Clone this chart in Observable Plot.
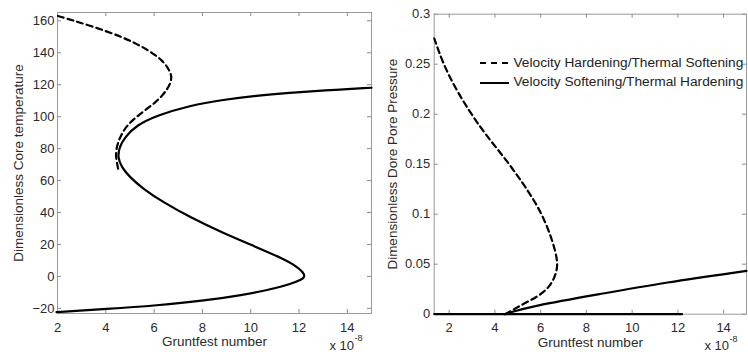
<!DOCTYPE html>
<html><head><meta charset="utf-8">
<script src="https://cdn.jsdelivr.net/npm/d3@7"></script>
<script src="https://cdn.jsdelivr.net/npm/@observablehq/plot@0.6"></script>
<style>
html,body{margin:0;padding:0;background:#fff;}
#wrap{position:relative;width:748px;height:352px;overflow:hidden;font-family:"Liberation Sans",Arial,sans-serif;}
.panel{position:absolute;top:0;}
.leg{position:absolute;font-size:13.7px;color:#222;white-space:nowrap;line-height:16px;}
.legline{position:absolute;}
</style></head><body><div id="wrap"></div>
<script>
// Gruntfest number (x 10^-8) tick labels
const xTicks = [2, 4, 6, 8, 10, 12, 14];
const tempTicks = [-20, 0, 20, 40, 60, 80, 100, 120, 140, 160];
const pressTicks = [0, 0.05, 0.1, 0.15, 0.2, 0.25, 0.3];

// Left panel: Dimensionless core temperature vs Gruntfest number
const leftSolidX = [1.96, 4.03, 6.1, 8.17, 9.54, 10.79, 11.61, 12.1, 12.25, 12.17, 11.9, 11.34, 10.23, 8.86, 7.48, 6.37, 5.54, 4.99, 4.65, 4.49, 4.56, 4.79, 5.26, 6.1, 7.48, 8.86, 10.23, 11.61, 12.99, 15.0];
const leftSolidY = [-22.3, -20.4, -18.2, -15.0, -11.9, -8.3, -5.0, -2.1, -0.2, 2.7, 6.3, 11.1, 18.4, 27.1, 37.1, 46.5, 54.9, 62.2, 68.4, 74.7, 80.9, 87.2, 94.5, 100.7, 107.0, 110.6, 113.1, 114.9, 116.4, 118.1];
const leftDashX = [4.51, 4.44, 4.4, 4.58, 4.86, 5.41, 6.1, 6.58, 6.74, 6.68, 6.37, 5.68, 4.72, 3.34, 1.96];
const leftDashY = [67.4, 72.6, 78.8, 87.2, 94.5, 101.8, 109.1, 117.4, 123.7, 128.0, 135.2, 142.5, 149.8, 157.1, 163.3];

// Right panel: Dimensionless core pore pressure vs Gruntfest number
const rightFlatX = [1.35, 12.18];
const rightFlatY = [0, 0];
const rightSolidX = [4.4, 5.64, 8.55, 11.45, 15.0];
const rightSolidY = [0.0, 0.0083, 0.0200, 0.0317, 0.0433];
const rightDashX = [4.45, 4.84, 5.35, 5.93, 6.44, 6.7, 6.75, 6.54, 6.22, 5.78, 5.2, 4.47, 3.75, 3.02, 2.29, 1.71, 1.35];
const rightDashY = [0.0, 0.005, 0.0117, 0.0183, 0.0283, 0.0417, 0.0533, 0.0717, 0.0917, 0.1117, 0.1317, 0.155, 0.175, 0.198, 0.225, 0.2517, 0.2757];

const seriesNames = ["Velocity Hardening/Thermal Softening", "Velocity Softening/Thermal Hardening"];

const zip = (xs, ys) => xs.map((x, i) => ({x, y: ys[i]}));

const W = 374, H = 352;
const frameColor = "#9a9a9a", tickColor = "#8a8a8a", textColor = "#2a2a2a";

function panel({mL, mR, mT, mB, xDomain, yDomain, yTicks, yFmt, yPad, yLabel, yLabelDx, lines}) {
  const innerH = H - mT - mB, innerW = W - mL - mR;
  return Plot.plot({
    width: W, height: H,
    marginLeft: mL, marginRight: mR, marginTop: mT, marginBottom: mB,
    style: {fontFamily: '"Liberation Sans", Arial, sans-serif', fontSize: "13px", color: textColor, background: "white", overflow: "visible"},
    x: {domain: xDomain, axis: null},
    y: {domain: yDomain, axis: null},
    marks: [
      Plot.axisX({ticks: xTicks, tickSize: 0, tickPadding: 9, label: null, fill: textColor, tickFormat: d => String(d)}),
      Plot.axisY({ticks: yTicks, tickSize: 0, tickPadding: yPad, label: null, fill: textColor, tickFormat: yFmt}),
      // inward tick marks on all four sides
      Plot.ruleX(xTicks, {x: d => d, insetTop: innerH - 4, stroke: tickColor, strokeWidth: 1}),
      Plot.ruleX(xTicks, {x: d => d, insetBottom: innerH - 4, stroke: tickColor, strokeWidth: 1}),
      Plot.ruleY(yTicks, {y: d => d, insetRight: innerW - 4, stroke: tickColor, strokeWidth: 1}),
      Plot.ruleY(yTicks, {y: d => d, insetLeft: innerW - 4, stroke: tickColor, strokeWidth: 1}),
      Plot.frame({stroke: frameColor, strokeWidth: 1}),
      ...lines.map(l => Plot.line(l.data, {x: "x", y: "y", curve: "basis", stroke: "#000", strokeWidth: 2.2, strokeDasharray: l.dash ? "6,4" : null})),
      Plot.text([yLabel], {frameAnchor: "left", text: d => d, rotate: -90, dx: yLabelDx, lineAnchor: "middle", textAnchor: "middle", fill: textColor, fontSize: 13.5}),
      Plot.text(["Gruntfest number"], {frameAnchor: "bottom", text: d => d, dy: 28, lineAnchor: "middle", fill: textColor, fontSize: 13.5}),
      Plot.text(["x 10"], {frameAnchor: "bottom-right", text: d => d, dx: -17.5, dy: 32, textAnchor: "end", lineAnchor: "middle", fill: textColor, fontSize: 13}),
      Plot.text(["-8"], {frameAnchor: "bottom-right", text: d => d, dx: -17, dy: 25, textAnchor: "start", lineAnchor: "middle", fill: textColor, fontSize: 9})
    ]
  });
}

const left = panel({
  mL: 57, mR: 3, mT: 12, mB: 39,
  xDomain: [2, 15], yDomain: [-23.2, 165.2], yTicks: tempTicks,
  yFmt: d => d < 0 ? "\u2212" + (-d) : String(d), yPad: 3,
  yLabel: "Dimensionless Core temperature", yLabelDx: -39,
  lines: [{data: zip(leftSolidX, leftSolidY)}, {data: zip(leftDashX, leftDashY), dash: true}]
});
const right = panel({
  mL: 59.7, mR: 2, mT: 13.7, mB: 38.3,
  xDomain: [1.345, 15], yDomain: [0, 0.3], yTicks: pressTicks,
  yFmt: d => String(d), yPad: 4,
  yLabel: "Dimensionless Dore Pore Pressure", yLabelDx: -41.5,
  lines: [{data: zip(rightFlatX, rightFlatY)}, {data: zip(rightSolidX, rightSolidY)}, {data: zip(rightDashX, rightDashY), dash: true}]
});

const wrap = document.getElementById("wrap");
const d1 = document.createElement("div"); d1.className = "panel"; d1.style.left = "0px"; d1.appendChild(left); wrap.appendChild(d1);
const d2 = document.createElement("div"); d2.className = "panel"; d2.style.left = "374px"; d2.appendChild(right); wrap.appendChild(d2);

// legend (right panel)
const legRows = [{name: seriesNames[0], dash: "6,5", y: 63}, {name: seriesNames[1], dash: null, y: 82.7}];
legRows.forEach(r => {
  const svg = d3.create("svg").attr("class", "legline").attr("width", 30).attr("height", 6)
    .style("left", "480px").style("top", (r.y - 3) + "px");
  svg.append("line").attr("x1", 0).attr("x2", 29).attr("y1", 3).attr("y2", 3)
    .attr("stroke", "#000").attr("stroke-width", 2).attr("stroke-dasharray", r.dash);
  wrap.appendChild(svg.node());
  const t = document.createElement("div"); t.className = "leg"; t.textContent = r.name;
  t.style.left = "513.5px"; t.style.top = (r.y - 8.5) + "px";
  wrap.appendChild(t);
});
</script></body></html>
